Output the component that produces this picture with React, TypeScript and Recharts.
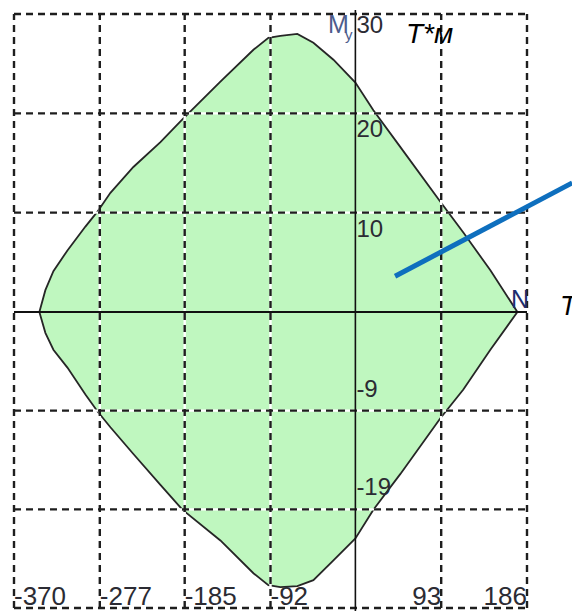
import {
    ComposedChart,
    Area,
    XAxis,
    YAxis,
    ReferenceLine,
    ReferenceDot,
} from 'recharts';

// Interaction diagram N - My. N in T, My in T*m.
const nValues = [
    -342.5, -336, -327.3, -312.1, -292.6, -279.6, -265.5, -240.6, -211.3, -187.5, -146.3, -110.5,
    -94.3, -81.3, -62.9, -45.5, -23.8, 0, 19.5, 48.8, 92.1, 117, 146.3, 175.6,
];
const mUpper = [
    0, 2.2, 4.1, 6.2, 8.6, 10.1, 12.0, 14.6, 17.1, 19.4, 23.2, 26.4, 27.6, 27.8, 28.0, 27.1, 25.4,
    23.1, 20.3, 16.6, 11.1, 8.0, 4.2, 0,
];
const mLower = [
    0, -2.1, -3.8, -5.6, -8.3, -10.0, -11.6, -14.3, -17.4, -19.9, -23.0, -26.3, -27.5, -27.7,
    -27.6, -27.0, -25.0, -22.8, -19.9, -16.3, -10.7, -7.8, -3.8, 0,
];

const nGrid = [-370, -277, -185, -92, 0, 93, 186];
const mGrid = [-29.8, -19.87, -9.93, 0, 10, 20, 30];

const nTickValues = [-370, -277, -185, -92, 93, 186];
const nTickLabels = ['-370', '-277', '-185', '-92', '93', '186'];
const mTickValues = [30, 20, 10, -9.93, -19.87];
const mTickLabels = ['30', '20', '10', '-9', '-19'];

// blue pointer line
const beamN = [43, 235];
const beamM = [3.6, 13.0];

const rows = nValues.map((n, i) => ({ n, range: [mLower[i], mUpper[i]] }));

const FONT = '"Liberation Sans", Arial, sans-serif';
const LABEL = '#2b2b33';
const GRID = '#1e1e1e';

// the zero lines are drawn as solid axes instead
const nGridLines = nGrid.filter((v) => v !== 0);
const mGridLines = mGrid.filter((v) => v !== 0);

interface LabProps {
    viewBox?: { x: number; y: number };
    text: string;
    value: number;
}

const NLabel = ({ viewBox, text }: LabProps) => {
    if (!viewBox) return null;
    const neg = text.startsWith('-');
    return (
        <text
            x={viewBox.x}
            y={viewBox.y - 3}
            textAnchor={neg ? 'start' : 'end'}
            fontFamily={FONT}
            fontSize={26}
            fill={LABEL}
        >
            {text}
        </text>
    );
};

const MLabel = ({ viewBox, text, value }: LabProps) => {
    if (!viewBox) return null;
    const dy = value >= 30 ? 19 : value > 0 ? 24 : -14;
    return (
        <text x={viewBox.x + 1} y={viewBox.y + dy} fontFamily={FONT} fontSize={24} fill={LABEL}>
            {text}
        </text>
    );
};

export default function App() {
    return (
        <div style={{ position: 'absolute', left: 0, top: 0, width: 572, height: 611, background: '#fff' }}>
            <ComposedChart
                width={572}
                height={611}
                data={rows}
                margin={{ top: 14, right: 45, bottom: 3, left: 14 }}
            >
                <XAxis
                    type="number"
                    dataKey="n"
                    domain={[-370, 186]}
                    ticks={nGrid}
                    height={0}
                    tick={false}
                    axisLine={false}
                    tickLine={false}
                    allowDataOverflow
                />
                <YAxis
                    type="number"
                    domain={[-29.8, 30]}
                    ticks={mGrid}
                    width={0}
                    tick={false}
                    axisLine={false}
                    tickLine={false}
                    allowDataOverflow
                />
                <Area
                    dataKey="range"
                    type="linear"
                    fill="#bff7bf"
                    fillOpacity={1}
                    stroke="#262626"
                    strokeWidth={1.8}
                    isAnimationActive={false}
                />
                {/* grid: white under-line so the dash gaps show white over the fill */}
                {nGridLines.map((v) => (
                    <ReferenceLine key={`gvw${v}`} x={v} stroke="#fff" strokeWidth={2.4} />
                ))}
                {mGridLines.map((v) => (
                    <ReferenceLine key={`ghw${v}`} y={v} stroke="#fff" strokeWidth={2.4} />
                ))}
                {nGridLines.map((v) => (
                    <ReferenceLine key={`gv${v}`} x={v} stroke={GRID} strokeWidth={2.4} strokeDasharray="7 5" />
                ))}
                {mGridLines.map((v) => (
                    <ReferenceLine key={`gh${v}`} y={v} stroke={GRID} strokeWidth={2.4} strokeDasharray="7 5" />
                ))}
                <ReferenceLine y={0} stroke="#111" strokeWidth={2} />
                <ReferenceLine
                    segment={[
                        { x: 0, y: -30.1 },
                        { x: 0, y: 30.4 },
                    ]}
                    stroke="#111"
                    strokeWidth={1.6}
                    ifOverflow="visible"
                />
                <ReferenceLine
                    segment={[
                        { x: beamN[0], y: beamM[0] },
                        { x: beamN[1], y: beamM[1] },
                    ]}
                    stroke="#0e6fbe"
                    strokeWidth={5}
                    ifOverflow="visible"
                />
                {nTickValues.map((v, i) => (
                    <ReferenceDot
                        key={`n${v}`}
                        x={v}
                        y={-29.8}
                        r={0}
                        fill="none"
                        stroke="none"
                        ifOverflow="visible"
                        label={<NLabel text={nTickLabels[i]} value={v} />}
                    />
                ))}
                {mTickValues.map((v, i) => (
                    <ReferenceDot
                        key={`m${v}`}
                        x={0}
                        y={v}
                        r={0}
                        fill="none"
                        stroke="none"
                        ifOverflow="visible"
                        label={<MLabel text={mTickLabels[i]} value={v} />}
                    />
                ))}
            </ComposedChart>
            <svg
                width={572}
                height={611}
                style={{ position: 'absolute', left: 0, top: 0, pointerEvents: 'none' }}
            >
                <text x={328} y={33} fontFamily={FONT} fontSize={25} fill="#4d5c8c">
                    M
                </text>
                <text x={345} y={40} fontFamily={FONT} fontSize={15} fill="#4d5c8c">
                    y
                </text>
                <text x={406} y={43} fontFamily={FONT} fontSize={28} fontStyle="italic" fill="#000">
                    T*м
                </text>
                <text x={511} y={308} fontFamily={FONT} fontSize={25} fill="#1f2d6e">
                    N
                </text>
                <text x={560} y={315} fontFamily={FONT} fontSize={27} fontStyle="italic" fill="#000">
                    T
                </text>
            </svg>
        </div>
    );
}
